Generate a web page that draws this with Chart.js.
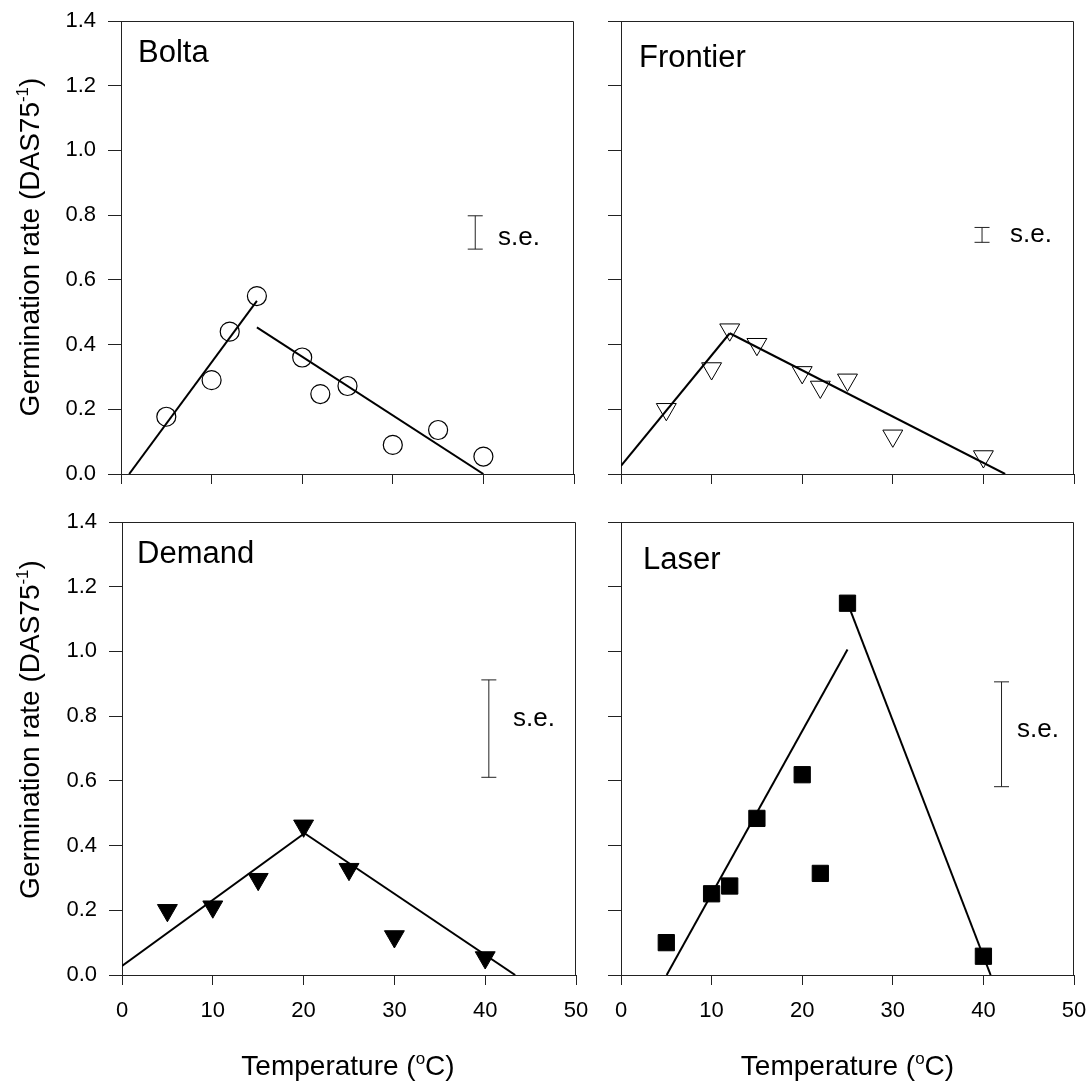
<!DOCTYPE html>
<html>
<head>
<meta charset="utf-8">
<script src="https://cdn.jsdelivr.net/npm/chart.js@4.4.1/dist/chart.umd.min.js"></script>
<style>
  html, body { margin: 0; padding: 0; background: #fff; }
  body { width: 1089px; height: 1081px; position: relative; overflow: hidden; }
  canvas { position: absolute; }
</style>
</head>
<body>
<canvas id="bolta" width="590" height="500" style="left:0;top:0"></canvas>
<canvas id="frontier" width="499" height="500" style="left:590px;top:0"></canvas>
<canvas id="demand" width="590" height="581" style="left:0;top:500px"></canvas>
<canvas id="laser" width="499" height="581" style="left:590px;top:500px"></canvas>
<script>
// measured germination rates (DAS75^-1) against temperature (oC)
const boltaTemps = [5, 10, 12, 15, 20, 22, 25, 30, 35, 40];
const boltaRate = [0.177, 0.29, 0.44, 0.55, 0.36, 0.247, 0.272, 0.09, 0.136, 0.054];
const frontierTemps = [5, 10, 12, 15, 20, 22, 25, 30, 40];
const frontierRate = [0.20, 0.326, 0.446, 0.401, 0.314, 0.269, 0.291, 0.118, 0.054];
const demandTemps = [5, 10, 15, 20, 25, 30, 40];
const demandRate = [0.20, 0.211, 0.296, 0.461, 0.327, 0.119, 0.054];
const laserTemps = [5, 10, 12, 15, 20, 22, 25, 40];
const laserRate = [0.10, 0.251, 0.275, 0.484, 0.619, 0.314, 1.149, 0.058];

// fitted lines, sub- and supra-optimal
const boltaLowX = [0.9, 15];
const boltaLowY = [0, 0.535];
const boltaHighX = [15, 40];
const boltaHighY = [0.453, 0];
const frontierLowX = [0, 12];
const frontierLowY = [0.025, 0.435];
const frontierHighX = [12, 42.4];
const frontierHighY = [0.435, 0];
const demandLowX = [0, 20.1];
const demandLowY = [0.028, 0.438];
const demandHighX = [20.1, 43.3];
const demandHighY = [0.438, 0];
const laserLowX = [5.04, 25];
const laserLowY = [0, 1.006];
const laserHighX = [25, 40.8];
const laserHighY = [1.15, 0];

// standard error bars (Bolta, Frontier, Demand, Laser)
const seX = [39.1, 39.85, 40.4, 42];
const seLow = [0.695, 0.716, 0.611, 0.582];
const seHigh = [0.798, 0.762, 0.912, 0.906];

// axis ticks
const xTicks = [0, 10, 20, 30, 40, 50];
const yTicks = [0, 0.2, 0.4, 0.6, 0.8, 1.0, 1.2, 1.4];

const xTitleParts = [{ text: 'Temperature (' }, { text: 'o', sup: true }, { text: 'C)' }];
const yTitleParts = [{ text: 'Germination rate (DAS75' }, { text: '-1', sup: true }, { text: ')' }];

const FONT = '"Liberation Sans", Arial, Helvetica, sans-serif';
const AXIS = '#222';

function toPoints(xs, ys) {
    return xs.map((x, i) => ({ x: x, y: ys[i] }));
}

function drawRich(ctx, parts, cx, cy, rot) {
    const base = 28, sup = 17;
    let w = 0;
    parts.forEach(p => {
        ctx.font = (p.sup ? sup : base) + 'px ' + FONT;
        w += ctx.measureText(p.text).width;
    });
    ctx.save();
    ctx.translate(cx, cy);
    ctx.rotate(rot);
    let x = -w / 2;
    parts.forEach(p => {
        ctx.font = (p.sup ? sup : base) + 'px ' + FONT;
        ctx.fillText(p.text, x, p.sup ? -11 : 0);
        x += ctx.measureText(p.text).width;
    });
    ctx.restore();
}

// frame, panel names, s.e. labels and axis titles
const textPlugin = {
    id: 'panelText',
    afterDraw(chart, args, opts) {
        const ctx = chart.ctx;
        const a = chart.chartArea;
        ctx.save();
        ctx.strokeStyle = AXIS;
        ctx.lineWidth = 1;
        ctx.beginPath();
        ctx.moveTo(Math.round(a.left) + 0.5, Math.round(a.top) + 0.5);
        ctx.lineTo(Math.round(a.right) - 0.5, Math.round(a.top) + 0.5);
        ctx.lineTo(Math.round(a.right) - 0.5, Math.round(a.bottom));
        ctx.stroke();
        ctx.fillStyle = '#000';
        ctx.textBaseline = 'alphabetic';
        ctx.textAlign = 'left';
        ctx.font = '31px ' + FONT;
        ctx.fillText(opts.name, opts.nameAt[0], opts.nameAt[1]);
        ctx.font = '26px ' + FONT;
        ctx.fillText('s.e.', opts.seAt[0], opts.seAt[1]);
        if (opts.xTitleAt) drawRich(ctx, xTitleParts, opts.xTitleAt[0], opts.xTitleAt[1], 0);
        if (opts.yTitleAt) drawRich(ctx, yTitleParts, opts.yTitleAt[0], opts.yTitleAt[1], -Math.PI / 2);
        ctx.restore();
    }
};

function markerSet(xs, ys, style) {
    return Object.assign({
        data: toPoints(xs, ys),
        borderColor: '#000',
        backgroundColor: 'rgba(0,0,0,0)',
        pointBorderWidth: 1.2,
        showLine: false
    }, style);
}

function fitLine(xs, ys) {
    return {
        data: toPoints(xs, ys),
        showLine: true,
        borderColor: '#000',
        borderWidth: 2,
        pointRadius: 0
    };
}

function seBar(i) {
    return {
        data: [{ x: seX[i], y: seLow[i] }, { x: seX[i], y: seHigh[i] }],
        showLine: true,
        borderColor: AXIS,
        borderWidth: 1,
        pointStyle: 'line',
        pointRadius: 7.5,
        pointBorderWidth: 1,
        pointBorderColor: AXIS
    };
}

function makePanel(id, cfg) {
    new Chart(document.getElementById(id), {
        type: 'scatter',
        data: { datasets: cfg.datasets },
        options: {
            responsive: false,
            animation: false,
            devicePixelRatio: 1,
            layout: { padding: { top: cfg.padTop, right: cfg.padRight, left: 0, bottom: 0 } },
            plugins: {
                legend: { display: false },
                tooltip: { enabled: false },
                panelText: cfg.text
            },
            scales: {
                x: {
                    type: 'linear',
                    min: xTicks[0],
                    max: xTicks[xTicks.length - 1],
                    afterBuildTicks: s => { s.ticks = xTicks.map(v => ({ value: v })); },
                    ticks: {
                        autoSkip: false,
                        maxRotation: 0,
                        padding: 13,
                        color: '#000',
                        font: { family: FONT, size: 22 },
                        callback: v => cfg.xLabels ? String(v) : ''
                    },
                    grid: { drawOnChartArea: false, tickLength: 10, color: AXIS, lineWidth: 1 },
                    border: { color: AXIS, width: 1 },
                    afterFit: s => {
                        s.height = cfg.xHeight;
                        s.paddingLeft = 0;
                        s.paddingRight = 0;
                    }
                },
                y: {
                    type: 'linear',
                    min: yTicks[0],
                    max: yTicks[yTicks.length - 1],
                    afterBuildTicks: s => { s.ticks = yTicks.map(v => ({ value: v })); },
                    ticks: {
                        autoSkip: false,
                        padding: 12,
                        color: '#000',
                        font: { family: FONT, size: 22 },
                        callback: v => cfg.yLabels ? v.toFixed(1) : ''
                    },
                    grid: { drawOnChartArea: false, tickLength: 13, color: AXIS, lineWidth: 1 },
                    border: { color: AXIS, width: 1 },
                    afterFit: s => {
                        s.width = cfg.yWidth;
                        s.paddingTop = 0;
                        s.paddingBottom = 0;
                    }
                }
            }
        },
        plugins: [textPlugin]
    });
}

makePanel('bolta', {
    padTop: 21, padRight: 16, yWidth: 121, xHeight: 26, xLabels: false, yLabels: true,
    text: { name: 'Bolta', nameAt: [138, 62], seAt: [498, 245], yTitleAt: [39, 247] },
    datasets: [
        fitLine(boltaLowX, boltaLowY),
        fitLine(boltaHighX, boltaHighY),
        seBar(0),
        markerSet(boltaTemps, boltaRate, { pointStyle: 'circle', pointRadius: 9.5 })
    ]
});

makePanel('frontier', {
    padTop: 21, padRight: 15, yWidth: 31, xHeight: 26, xLabels: false, yLabels: false,
    text: { name: 'Frontier', nameAt: [49, 67], seAt: [420, 242] },
    datasets: [
        fitLine(frontierLowX, frontierLowY),
        fitLine(frontierHighX, frontierHighY),
        seBar(1),
        markerSet(frontierTemps, frontierRate, { pointStyle: 'triangle', pointRotation: 180, pointRadius: 11.5, pointBorderWidth: 1 })
    ]
});

makePanel('demand', {
    padTop: 22, padRight: 14, yWidth: 122, xHeight: 106, xLabels: true, yLabels: true,
    text: { name: 'Demand', nameAt: [137, 63], seAt: [513, 226], yTitleAt: [39, 229.5], xTitleAt: [348, 575] },
    datasets: [
        fitLine(demandLowX, demandLowY),
        fitLine(demandHighX, demandHighY),
        seBar(2),
        markerSet(demandTemps, demandRate, { pointStyle: 'triangle', pointRotation: 180, pointRadius: 11.5, pointBorderWidth: 1, backgroundColor: '#000' })
    ]
});

makePanel('laser', {
    padTop: 22, padRight: 15, yWidth: 31, xHeight: 106, xLabels: true, yLabels: false,
    text: { name: 'Laser', nameAt: [53, 69], seAt: [427, 237], xTitleAt: [257.5, 575] },
    datasets: [
        fitLine(laserLowX, laserLowY),
        fitLine(laserHighX, laserHighY),
        seBar(3),
        markerSet(laserTemps, laserRate, { pointStyle: 'rect', pointRadius: 11.5, pointBorderWidth: 1, backgroundColor: '#000' })
    ]
});
</script>
</body>
</html>
